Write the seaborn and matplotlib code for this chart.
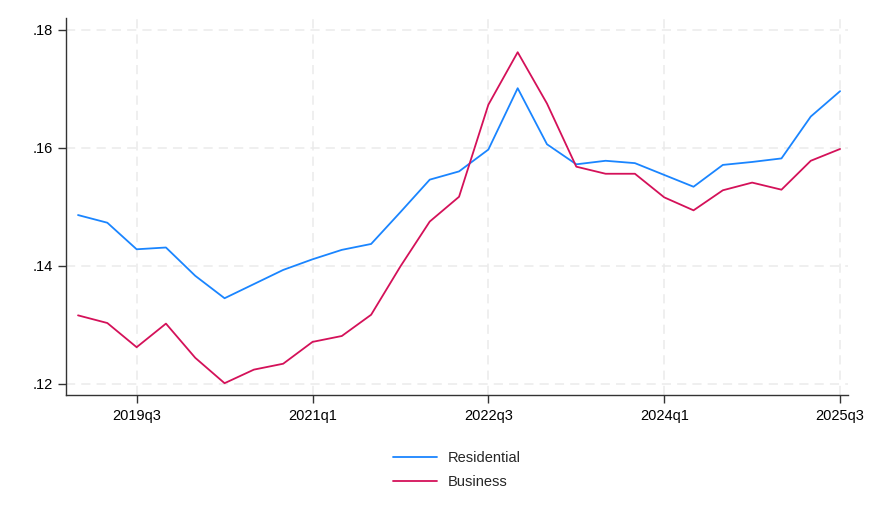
import matplotlib.pyplot as plt
import numpy as np
import pandas as pd
import seaborn as sns

# quarterly series, 2019q1 .. 2025q3
quarters = [f"{y}q{q}" for y in range(2019, 2026) for q in range(1, 5)][:27]

residential = [0.1486, 0.1473, 0.1428, 0.1431, 0.1383, 0.1345, 0.1369, 0.1393,
               0.1411, 0.1427, 0.1437, 0.1491, 0.1546, 0.1560, 0.1597, 0.1701,
               0.1606, 0.1572, 0.1578, 0.1574, 0.1554, 0.1534, 0.1571, 0.1576,
               0.1582, 0.1653, 0.1696]
business = [0.1316, 0.1303, 0.1262, 0.1302, 0.1244, 0.1201, 0.1224, 0.1234,
            0.1271, 0.1281, 0.1317, 0.1399, 0.1475, 0.1517, 0.1673, 0.1762,
            0.1675, 0.1568, 0.1556, 0.1556, 0.1516, 0.1494, 0.1528, 0.1541,
            0.1529, 0.1578, 0.1598]

tick_labels = ["2019q3", "2021q1", "2022q3", "2024q1", "2025q3"]
y_ticks = [0.12, 0.14, 0.16, 0.18]
y_tick_labels = [".12", ".14", ".16", ".18"]

df = pd.DataFrame({
    "t": list(range(len(quarters))) * 2,
    "value": residential + business,
    "series": ["Residential"] * len(quarters) + ["Business"] * len(quarters),
})

sns.set_style("white")
plt.rcParams["font.family"] = ["Liberation Sans", "DejaVu Sans"]

fig = plt.figure(figsize=(8.71, 5.23), dpi=100)
ax = fig.add_axes([66 / 871, 1 - 395 / 523, (848 - 66) / 871, (395 - 18) / 523])

sns.lineplot(data=df, x="t", y="value", hue="series",
             palette={"Residential": "#1A85FF", "Business": "#D41159"},
             linewidth=1.3, ax=ax, legend=True)

tick_pos = [quarters.index(q) for q in tick_labels]
ax.set_xticks(tick_pos)
ax.set_xticklabels(tick_labels)
ax.set_yticks(y_ticks)
ax.set_yticklabels(y_tick_labels)
ax.set_xlim(-0.41, len(quarters) - 1 + 0.27)
ax.set_ylim(0.1181, 0.1820)
ax.set_xlabel("")
ax.set_ylabel("")

ax.grid(True, color="#ebebeb", linestyle=(0, (6, 4)), linewidth=1.1)
for s in ["top", "right"]:
    ax.spines[s].set_visible(False)
for s in ["left", "bottom"]:
    ax.spines[s].set_color("#333333")
    ax.spines[s].set_linewidth(1.0)
ax.tick_params(axis="both", direction="out", length=6, width=1, color="#333333",
               labelsize=10.5, labelcolor="black", left=True, bottom=True)
ax.tick_params(axis="x", pad=4)

ax.legend(loc="upper center", bbox_to_anchor=(0.5, -0.113), frameon=False,
          ncol=1, fontsize=10.5, handlelength=3.0, labelspacing=0.72)

fig.savefig("out.png", dpi=100)
